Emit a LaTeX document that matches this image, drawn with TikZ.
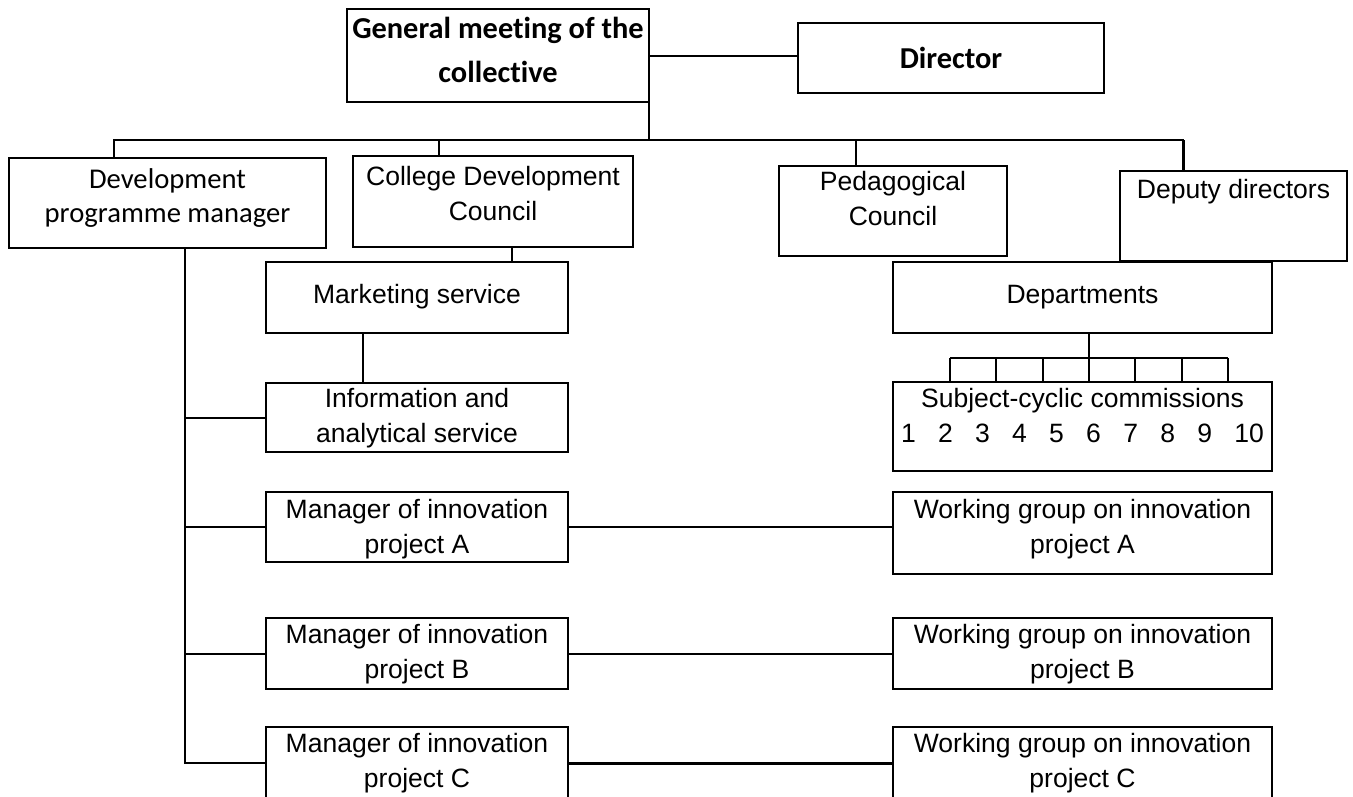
\documentclass[tikz,border=0pt]{standalone}
\usepackage{fontspec}
\setmainfont{Liberation Sans}
\newfontfamily\carlito{Carlito}[Ligatures=CommonOff]
\usetikzlibrary{calc}

% one drawing unit
\newdimen\unitpx
\unitpx=0.02cm

\newcommand\boxfont{\fontsize{15.1pt}{19.9pt}\selectfont}
\newcommand\headfont{\carlito\bfseries\fontsize{17.3pt}{24.5pt}\selectfont}
\newcommand\devfont{\carlito\fontsize{16.3pt}{18.8pt}\selectfont}
\newcommand\scgap{\hspace{0.84em}}

% text height / text depth are measured from the baseline of the last line
\tikzset{
    orgbox/.style={
        draw, line width=2\unitpx, anchor=north west, outer sep=0pt,
        inner xsep=0pt, inner ysep=0pt, align=center, font=\boxfont,
    },
    link/.style={line width=2\unitpx},
    boldlink/.style={line width=3\unitpx},
}

\begin{document}
\begin{tikzpicture}[x=1\unitpx, y=-1\unitpx]
\useasboundingbox (0,0) rectangle (1353,796);

% ------------------------------------------------------------
%   Top level
% ------------------------------------------------------------
\node[orgbox, font=\headfont, minimum width=302\unitpx,
      text height=73\unitpx, text depth=20\unitpx] (gm) at (347,9)
    {General meeting of the\\collective};
\node[orgbox, font=\headfont, minimum width=306\unitpx,
      text height=45\unitpx, text depth=25\unitpx] (dir) at (798,23)
    {Director};

% ------------------------------------------------------------
%   Second row
% ------------------------------------------------------------
\node[orgbox, font=\devfont, minimum width=317\unitpx,
      text height=64\unitpx, text depth=26\unitpx] (dev) at (9,158)
    {Development\\programme manager};
\node[orgbox, minimum width=280\unitpx,
      text height=64\unitpx, text depth=27\unitpx] (cdc) at (353,156)
    {College Development\\Council};
\node[orgbox, minimum width=228\unitpx,
      text height=59\unitpx, text depth=31\unitpx] (ped) at (779,166)
    {Pedagogical\\Council};
\node[orgbox, minimum width=227\unitpx,
      text height=27\unitpx, text depth=63\unitpx] (dep) at (1120,171)
    {Deputy directors};

% ------------------------------------------------------------
%   Services and departments
% ------------------------------------------------------------
\node[orgbox, minimum width=302\unitpx,
      text height=41\unitpx, text depth=30\unitpx] (mkt) at (266,262)
    {Marketing service};
\node[orgbox, minimum width=302\unitpx,
      text height=59\unitpx, text depth=10\unitpx] (info) at (266,383)
    {Information and\\analytical service};
\node[orgbox, minimum width=379\unitpx,
      text height=41\unitpx, text depth=30\unitpx] (dpt) at (893,262)
    {Departments};
\node[orgbox, minimum width=379\unitpx,
      text height=60\unitpx, text depth=29\unitpx] (scc) at (893,382)
    {Subject-cyclic commissions\\
     1\scgap 2\scgap 3\scgap 4\scgap 5\scgap 6\scgap 7\scgap 8\scgap 9\scgap 10};

% ------------------------------------------------------------
%   Innovation projects
% ------------------------------------------------------------
\node[orgbox, minimum width=302\unitpx,
      text height=61\unitpx, text depth=9\unitpx] (mgrA) at (266,492)
    {Manager of innovation\\project A};
\node[orgbox, minimum width=379\unitpx,
      text height=61\unitpx, text depth=21\unitpx] (wgA) at (893,492)
    {Working group on innovation\\project A};
\node[orgbox, minimum width=302\unitpx,
      text height=60\unitpx, text depth=11\unitpx] (mgrB) at (266,618)
    {Manager of innovation\\project B};
\node[orgbox, minimum width=379\unitpx,
      text height=60\unitpx, text depth=11\unitpx] (wgB) at (893,618)
    {Working group on innovation\\project B};
\node[orgbox, minimum width=302\unitpx,
      text height=60\unitpx, text depth=12\unitpx] (mgrC) at (266,727)
    {Manager of innovation\\project C};
\node[orgbox, minimum width=379\unitpx,
      text height=60\unitpx, text depth=12\unitpx] (wgC) at (893,727)
    {Working group on innovation\\project C};

% ------------------------------------------------------------
%   Connectors
% ------------------------------------------------------------
\coordinate (bus) at (649,140);
\draw[link] (gm.east) -- (gm.east -| dir.west);
\draw[link] (gm.south east) -- (bus);
\draw[link] ([xshift=105\unitpx]dev.north west) |- (bus);
\draw[link] (bus) -| ([xshift=63\unitpx]dep.north west);
\draw[boldlink] ([xshift=63\unitpx]dep.north west) -- ++(0,-31);
\draw[link] ([xshift=86\unitpx]cdc.north west) |- (bus);
\draw[link] ([xshift=77\unitpx]ped.north west) |- (bus);

% development programme spine
\coordinate (spine) at ([xshift=176\unitpx]dev.south west);
\draw[link] (spine) -- (spine |- mgrC.west) -- (mgrC.west);
\foreach \b in {info, mgrA, mgrB}
    \draw[link] (spine |- \b.west) -- (\b.west);

% council -> marketing -> information
\draw[link] ([xshift=159\unitpx]cdc.south west) -- ([xshift=246\unitpx]mkt.north west);
\draw[link] ([xshift=97\unitpx]mkt.south west) -- ([xshift=97\unitpx]info.north west);

% departments -> commissions
\draw[link] ([xshift=196\unitpx]dpt.south west) -- ++(0,25) coordinate (comb);
\draw[link] ($(comb)+(-139,0)$) -- ($(comb)+(139,0)$);
\foreach \k in {-3,...,3}
    \draw[link] ($(comb)+(\k*46.33,0)$) coordinate (tk) -- (tk |- scc.north);

% managers -> working groups
\draw[link] (mgrA.east) -- (mgrA.east -| wgA.west);
\draw[link] (mgrB.east) -- (mgrB.east -| wgB.west);
\draw[boldlink] (mgrC.east) -- (mgrC.east -| wgC.west);

\end{tikzpicture}
\end{document}
